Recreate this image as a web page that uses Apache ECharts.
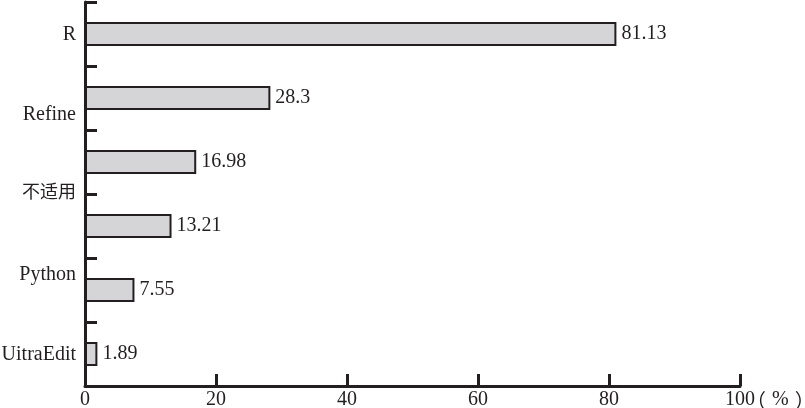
<!DOCTYPE html>
<html>
<head>
<meta charset="utf-8">
<script src="https://cdn.jsdelivr.net/npm/echarts@6/dist/echarts.min.js"></script>
<style>
html,body{margin:0;padding:0;background:#fff;}
#chart{width:805px;height:408px;}
</style>
</head>
<body>
<div id="chart"></div>
<script>
// Data
var barCategories = ['R', 'Refine', 'bar3', 'bar4', 'Python', 'UitraEdit'];
var barValues = [81.13, 28.3, 16.98, 13.21, 7.55, 1.89];
var axisLabels = ['R', 'Refine', '不适用', 'Python', 'UitraEdit'];
var axisLabelSlots = [0, 1, 2, 3, 4];
var xTicks = [0, 20, 40, 60, 80, 100];
var xUnit = ['（', '%', '）'];

var ink = '#231f20';
var serif = '"Liberation Serif", "Times New Roman", "Noto Sans CJK SC", serif';

var chart = echarts.init(document.getElementById('chart'), null, {renderer: 'canvas'});
chart.setOption({
  animation: false,
  backgroundColor: '#ffffff',
  grid: {left: 85, right: 65, top: 2, bottom: 22, containLabel: false, outerBoundsMode: 'none'},
  xAxis: {
    type: 'value',
    min: xTicks[0],
    max: xTicks[xTicks.length - 1],
    interval: xTicks[1] - xTicks[0],
    name: '{p|' + xUnit[0] + '}{q|' + xUnit[1] + '}{p|' + xUnit[2] + '}',
    nameLocation: 'end',
    nameGap: 6,
    nameMoveOverlap: false,
    nameTextStyle: {
      color: ink, fontSize: 20, fontFamily: serif, verticalAlign: 'top', padding: [4, 0, 0, 0],
      rich: {
        p: {color: ink, fontSize: 20, fontFamily: '"Noto Sans CJK SC", sans-serif'},
        q: {color: ink, fontSize: 20, fontFamily: serif, padding: [0, 6, 0, 6]}
      }
    },
    axisLine: {show: true, onZero: false, lineStyle: {color: ink, width: 3}},
    axisTick: {show: true, inside: true, length: 12, lineStyle: {color: ink, width: 3}},
    axisLabel: {color: ink, fontSize: 20, fontFamily: serif, margin: 4},
    splitLine: {show: false}
  },
  yAxis: [{
    type: 'category',
    inverse: true,
    data: barCategories,
    axisLine: {show: true, lineStyle: {color: ink, width: 3}},
    axisTick: {show: true, inside: true, length: 12, lineStyle: {color: ink, width: 3}},
    axisLabel: {show: false},
    splitLine: {show: false}
  }, {
    type: 'value',
    position: 'left',
    inverse: true,
    min: -0.4125,
    max: 4.3875,
    axisLine: {show: false, onZero: false},
    axisTick: {show: false},
    splitLine: {show: false},
    axisLabel: {
      show: true,
      customValues: axisLabelSlots,
      margin: 9,
      color: ink,
      fontSize: 20,
      fontFamily: serif,
      formatter: function (v) {
        var i = Math.round(v);
        var t = axisLabels[i] || '';
        return /[\u4e00-\u9fff]/.test(t) ? '{cjk|' + t + '}' : t;
      },
      rich: {cjk: {fontSize: 18, fontFamily: '"Noto Sans CJK SC", sans-serif', color: ink, padding: [0, 0, 7, 0]}}
    }
  }],
  series: [{
    type: 'bar',
    yAxisIndex: 0,
    data: barValues,
    barWidth: 24,
    itemStyle: {color: '#d5d5d7', borderColor: ink, borderWidth: 2},
    label: {
      show: true,
      position: 'right',
      distance: 5,
      color: ink,
      fontSize: 20,
      fontFamily: serif,
      formatter: function (p) { return String(p.value); }
    }
  }]
});
</script>
</body>
</html>
